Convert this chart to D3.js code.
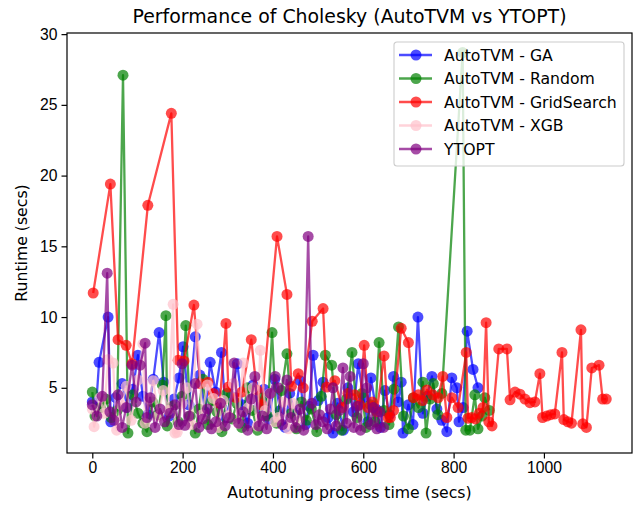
<!DOCTYPE html>
<html>
<head>
<meta charset="utf-8">
<script src="https://cdn.jsdelivr.net/npm/d3@7"></script>
<style>
  body { margin: 0; background: #fff; }
  svg { font-family: "DejaVu Sans", sans-serif; }
  .tick text { font-size: 15.7px; fill: #000; }
  .tick line, .domain { stroke: #000; stroke-width: 1.2px; }
</style>
</head>
<body>
<div class="chart"></div>
<script>
// data
const gaTime = [0,8,15,35,41,52,66,78,90,101,112,123,135,148,158,170,181,192,201,214,228,238,250,261,273,286,296,308,321,332,344,356,368,380,392,404,416,427,437,449,460,472,480,489,500,511,522,533,543,556,566,578,589,600,610,617,628,638,648,658,667,677,684,688,700,710,721,732,741,752,763,774,785,796,807,812,821,830,843,854];
const gaRuntime = [4.0,3.5,6.8,10.0,2.6,4.3,5.3,3.6,4.9,7.3,4.4,3.1,5.6,8.9,5.4,3.0,4.2,5.7,7.9,3.8,8.6,5.9,3.3,6.8,4.7,7.5,2.9,4.4,6.7,3.8,2.5,5.2,3.6,4.9,2.8,5.6,3.4,2.2,4.6,3.1,5.5,2.4,3.7,7.3,4.1,5.4,2.9,1.8,3.9,2.0,5.0,3.3,6.7,4.3,2.6,5.7,3.5,2.2,4.8,3.1,5.8,4.0,5.4,1.8,3.8,2.4,10.0,3.2,4.4,5.8,3.5,2.7,1.9,5.7,5.0,2.6,3.6,9.0,6.3,5.0];

const randTime = [0,6,18,30,42,55,68,79,90,101,112,121,133,145,155,163,166,178,190,199,207,217,228,236,245,256,266,276,287,298,310,320,331,343,354,366,377,388,398,408,419,431,441,452,463,474,485,497,507,516,530,540,552,563,575,586,597,606,616,626,635,646,657,668,678,689,700,711,722,732,739,748,755,765,774,820,827,836,847,854,863,869,879];
const randRuntime = [4.7,3.0,3.6,4.2,2.9,3.4,27.1,1.8,4.5,3.2,2.5,1.9,4.0,3.1,5.2,10.1,2.3,3.7,2.6,4.4,9.4,3.0,1.8,3.5,5.6,2.4,4.1,3.3,1.9,4.6,2.8,3.9,2.2,5.0,3.4,2.0,4.3,3.0,8.9,2.5,4.8,7.4,3.2,2.1,4.0,2.7,3.5,1.9,4.4,7.3,6.6,3.1,2.0,4.2,7.5,2.9,4.6,2.2,3.8,2.6,8.2,3.4,2.4,4.9,9.3,3.0,2.1,4.3,3.6,5.4,1.8,4.2,5.3,3.1,4.6,28.7,2.0,2.0,4.5,2.1,3.0,4.3,3.4];

const gridTime = [2,40,57,75,88,123,175,190,203,225,239,256,268,282,296,301,318,331,352,364,375,409,431,441,456,467,487,511,519,537,553,566,581,592,602,611,620,630,646,655,660,667,684,700,711,722,731,741,754,766,776,785,796,810,828,832,840,848,857,865,872,878,885,900,918,925,936,947,958,969,980,991,997,1006,1015,1024,1040,1044,1053,1061,1082,1086,1094,1106,1122,1130,1138];
const gridRuntime = [11.7,19.4,8.4,8.0,6.7,17.9,24.4,6.95,6.9,10.85,5.3,5.4,4.6,3.9,9.55,5.05,4.3,4.7,8.4,4.85,3.8,15.7,11.6,5.1,6.0,5.0,9.7,10.6,5.05,5.5,3.6,4.6,4.5,3.8,8.0,3.6,4.0,3.3,7.25,2.9,2.9,3.4,9.2,8.2,4.3,4.5,4.1,4.85,4.5,4.3,5.8,2.9,4.3,3.6,7.5,2.85,2.9,2.8,3.2,3.6,9.6,2.6,2.3,7.75,7.75,4.15,4.7,4.55,4.2,3.95,4.0,6.0,2.9,3.0,3.1,3.15,7.5,2.75,2.6,2.5,9.1,2.45,2.2,6.4,6.6,4.2,4.2];

const xgbTime = [0,4,17,26,35,46,54,64,75,86,101,112,117,126,135,146,157,168,179,183,188,199,210,220,232,243,255,268,279,290,301,312,323,334,345,356,365,372,383,393,404,412,423,434,444,455];
const xgbRuntime = [3.5,2.25,4.3,3.2,7.0,6.75,2.0,3.8,5.1,2.7,5.55,8.1,2.5,4.2,5.5,3.0,4.8,3.4,10.9,1.8,1.85,3.9,5.0,2.4,9.5,3.1,5.2,4.25,2.2,4.1,3.0,5.3,2.5,6.75,3.6,5.0,2.3,7.65,3.4,4.6,2.6,2.9,4.0,2.1,3.9,2.7];

const ytoptTime = [0,10,22,33,39,48,57,66,75,88,97,106,117,121,128,139,150,160,172,183,192,199,205,214,228,236,245,255,264,274,284,294,304,314,324,334,344,352,360,369,377,386,394,405,412,421,431,440,450,460,468,478,486,495,503,511,520,527,533,540,547,555,563,571,579,587,594,600,608,616,622,630,637,645];
const ytoptRuntime = [3.8,3.0,4.4,13.1,3.3,2.7,4.5,2.2,3.6,6.6,4.0,6.6,8.15,2.9,4.3,2.2,3.5,2.6,3.2,3.8,2.4,6.7,2.35,3.0,5.3,2.2,2.8,3.5,2.1,2.6,3.9,2.3,2.9,6.75,2.5,3.3,2.0,4.2,5.8,2.3,3.0,2.1,4.6,5.8,5.0,2.4,5.55,2.9,2.2,3.5,2.0,15.7,3.9,2.4,3.1,2.6,2.1,3.5,5.0,2.3,3.4,6.4,2.5,5.8,2.2,3.7,2.0,6.7,5.0,2.4,3.6,2.1,3.3,2.2];

const xTicks = [0,200,400,600,800,1000];
const yTicks = [5,10,15,20,25,30];

const series = [
  {name:'AutoTVM - GA', color:'blue', x:gaTime, y:gaRuntime},
  {name:'AutoTVM - Random', color:'green', x:randTime, y:randRuntime},
  {name:'AutoTVM - GridSearch', color:'red', x:gridTime, y:gridRuntime},
  {name:'AutoTVM - XGB', color:'pink', x:xgbTime, y:xgbRuntime},
  {name:'YTOPT', color:'purple', x:ytoptTime, y:ytoptRuntime}
];

const W = 635, H = 508;
const margin = {left: 67, right: 632, top: 33, bottom: 453};

const svg = d3.select('.chart').append('svg')
    .attr('width', W)
    .attr('height', H);

const xScale = d3.scaleLinear().domain([-56, 1195]).range([margin.left, margin.right]);
const yScale = d3.scaleLinear().domain([0.39, 30.08]).range([margin.bottom, margin.top]);

svg.append('clipPath').attr('id','plotclip')
   .append('rect')
   .attr('x', margin.left).attr('y', margin.top)
   .attr('width', margin.right-margin.left).attr('height', margin.bottom-margin.top);

const plot = svg.append('g').attr('clip-path','url(#plotclip)');

const line = d3.line().x(d => xScale(d[0])).y(d => yScale(d[1]));

series.forEach(s => {
  const pts = s.x.map((t,i) => [t, s.y[i]]);
  const g = plot.append('g');
  g.append('path')
   .datum(pts)
   .attr('d', line)
   .attr('fill','none')
   .attr('stroke', s.color)
   .attr('stroke-width', 2.3)
   .attr('stroke-opacity', 0.7)
   .attr('stroke-linejoin','round');
  g.selectAll('circle')
   .data(pts)
   .enter()
   .append('circle')
   .attr('cx', d => xScale(d[0]))
   .attr('cy', d => yScale(d[1]))
   .attr('r', 5.5)
   .attr('fill', s.color)
   .attr('fill-opacity', 0.7);
});

// axes
const xAxis_group = svg.append('g')
    .attr('transform', `translate(0,${margin.bottom})`)
    .call(d3.axisBottom(xScale).tickValues(xTicks).tickSize(5.5).tickPadding(3.5).tickFormat(d3.format('d')));
const yAxis_group = svg.append('g')
    .attr('transform', `translate(${margin.left},0)`)
    .call(d3.axisLeft(yScale).tickValues(yTicks).tickSize(5.5).tickPadding(4).tickFormat(d3.format('d')));
xAxis_group.select('.domain').remove();
yAxis_group.select('.domain').remove();

// frame
svg.append('rect')
   .attr('x', margin.left).attr('y', margin.top)
   .attr('width', margin.right-margin.left).attr('height', margin.bottom-margin.top)
   .attr('fill','none')
   .attr('stroke','#000')
   .attr('stroke-width',1.2);

// title and labels
svg.append('text')
   .text('Performance of Cholesky (AutoTVM vs YTOPT)')
   .attr('x', (margin.left+margin.right)/2)
   .attr('y', 23)
   .attr('text-anchor','middle')
   .attr('font-size','18.9px');

svg.append('text')
   .text('Autotuning process time (secs)')
   .attr('x', (margin.left+margin.right)/2)
   .attr('y', 498)
   .attr('text-anchor','middle')
   .attr('font-size','15.7px');

svg.append('text')
   .text('Runtime (secs)')
   .attr('transform', `translate(27,${(margin.top+margin.bottom)/2}) rotate(-90)`)
   .attr('text-anchor','middle')
   .attr('font-size','15.7px');

// legend
const legend = svg.append('g').attr('transform','translate(394,42)');
legend.append('rect')
   .attr('width', 230).attr('height', 124)
   .attr('rx', 3)
   .attr('fill','#fff').attr('fill-opacity',0.8)
   .attr('stroke','#ccc').attr('stroke-width',1.1);

series.forEach((s,i) => {
  const y = 13 + i*23.5;
  legend.append('line')
     .attr('x1', 5).attr('x2', 38)
     .attr('y1', y).attr('y2', y)
     .attr('stroke', s.color).attr('stroke-width',2.3).attr('stroke-opacity',0.7);
  legend.append('circle')
     .attr('cx', 22).attr('cy', y).attr('r', 5.5)
     .attr('fill', s.color).attr('fill-opacity',0.7);
  legend.append('text')
     .text(s.name)
     .attr('x', 50).attr('y', y + 5.5)
     .attr('font-size','15.7px');
});
</script>
</body>
</html>
